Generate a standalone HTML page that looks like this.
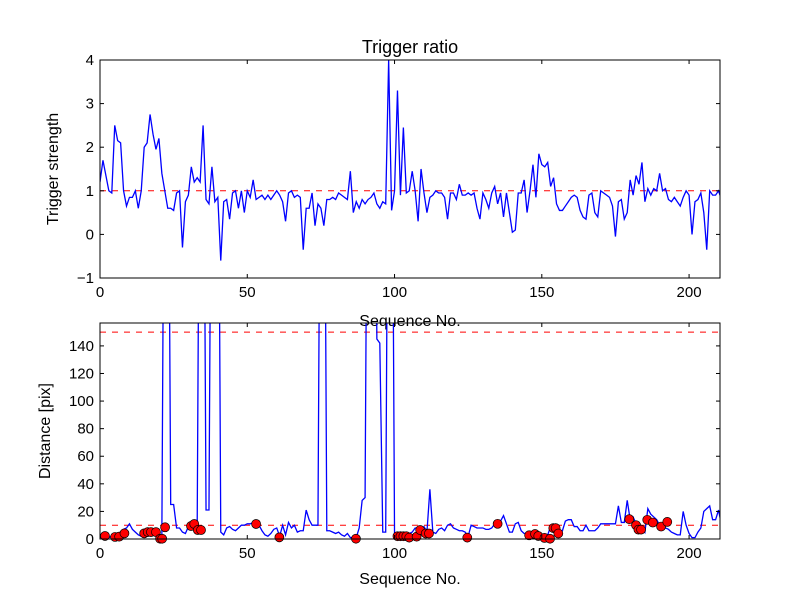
<!DOCTYPE html>
<html><head><meta charset="utf-8"><style>body{margin:0;background:#fff}svg{display:block;font-family:"Liberation Sans","DejaVu Sans",sans-serif}</style></head>
<body>
<svg id="chart" width="800" height="600" xmlns="http://www.w3.org/2000/svg"></svg>
<script>
const ratio=[1.2,1.7,1.35,1.0,0.95,2.5,2.15,2.1,1.0,0.65,0.85,0.85,1.0,0.6,1.0,2.0,2.1,2.75,2.3,1.95,2.2,1.4,1.0,0.6,0.6,0.55,0.95,1.0,-0.3,0.75,0.9,1.55,1.2,1.3,1.2,2.5,0.8,0.7,1.55,0.75,0.85,-0.6,0.75,0.8,0.35,0.95,1.0,0.6,1.0,0.5,1.0,0.85,1.25,0.8,0.85,0.9,0.8,0.9,0.8,0.9,1.0,0.9,0.75,0.3,0.95,1.0,0.85,0.9,0.85,-0.35,0.6,0.6,0.95,0.2,0.7,0.6,0.2,0.8,0.8,0.85,0.8,0.95,0.9,0.85,0.8,1.45,0.5,0.75,0.6,0.8,0.7,0.8,0.85,0.95,0.7,0.6,0.75,0.7,4.0,0.55,1.0,3.3,0.9,2.45,0.95,1.0,1.45,1.0,0.3,1.5,0.95,0.5,0.85,0.9,1.0,0.95,0.95,0.85,0.35,0.95,0.95,0.8,1.15,0.9,0.9,0.95,0.9,0.95,0.6,0.35,0.95,0.8,0.6,0.95,1.1,0.7,0.95,0.4,0.95,0.5,0.05,0.1,0.95,0.95,1.25,0.5,1.0,1.6,0.85,1.85,1.6,1.55,1.65,1.1,1.3,0.7,0.55,0.55,0.65,0.75,0.85,0.9,0.85,0.55,0.4,0.35,0.9,0.95,0.5,0.4,1.0,0.95,0.9,0.85,0.65,-0.05,0.75,0.8,0.35,0.5,1.25,0.9,1.35,1.15,1.65,0.75,1.05,0.9,1.05,1.0,1.4,1.0,1.05,0.8,0.75,0.85,0.75,0.65,0.85,1.0,0.9,0.0,0.75,0.8,0.95,0.5,-0.35,1.0,0.9,0.9,1.0,0.8];
const dist=[2,3,1,1,2,3,4,5,7,8,11,7,5,3,2,2,3,5,5,5,3,2,400,400,25,25,8,8,5,4,9,10,11,10,400,400,21,21,400,400,400,5,3,8,9,7,6,8,10,10,11,11,12,11,10,6,3,2,4,7,8,2,10,3,12,8,10,5,6,6,21,14,10,10,10,400,400,6,6,5,4,5,3,2,4,1,1,1,8,28,30,400,400,400,145,142,5,5,400,400,2,3,5,3,2,4,5,8,8,6,9,5,36,5,4,7,8,6,10,11,8,7,6,6,5,2,10,9,8,8,8,7,7,8,11,13,13,17,11,5,5,11,12,6,4,4,3,2,3,2,1,2,3,9,10,8,5,6,13,14,14,9,9,6,6,10,6,6,6,8,11,11,11,11,11,11,24,12,12,28,14,16,11,10,9,5,22,18,16,14,10,10,8,7,5,4,3,3,20,10,4,1,1,5,8,20,22,24,14,14,21,10];
const dotX=[1.7,5.1,6.5,8.3,15,16.2,17.3,19,20.4,21.1,22.1,30.9,32,33.2,34.3,53,60.9,86.9,101,102,103,104,105,107.5,108.7,110.6,111.7,124.7,135,145.7,147.7,148.8,150.9,152.8,153.9,154.7,155.6,179.7,182,182.8,183.7,185.8,187.7,190.5,192.6];
const dotY=[2.2,1.5,1.7,4.1,4.1,5,5,5,0.2,0.2,8.5,9.4,10.9,6.5,6.5,10.9,1.2,0.2,2,2,2,2,1,1.7,6.5,4,4,1,11,2.7,3.6,2.2,0.8,0.2,7.9,7.9,4,14.4,10,6.8,6.8,13.9,11.9,9,12.4];
const xTicks=[0,50,100,150,200];
const topYTicks=[-1,0,1,2,3,4];
const botYTicks=[0,20,40,60,80,100,120,140];
const thresholdsTop=[1];
const thresholdsBot=[10,150];

const NS="http://www.w3.org/2000/svg";
const svg=document.getElementById('chart');
function mk(t,a,p){const e=document.createElementNS(NS,t);for(const k in a)e.setAttribute(k,a[k]);(p||svg).appendChild(e);return e;}
const L=100,R=720,XMAX=210.5;
const sx=v=>L+(v/XMAX)*(R-L);
function panel(top,bot,ymin,ymax,name){
  const sy=v=>bot-(v-ymin)/(ymax-ymin)*(bot-top);
  const g=mk('g',{});
  
  
  const cid='clip-'+name;
  const cp=mk('clipPath',{id:cid},g);mk('rect',{x:L,y:top,width:R-L,height:bot-top},cp);
  const plot=mk('g',{'clip-path':'url(#'+cid+')'},g);
  return {g,plot,sy,top,bot};
}
function axes(p,yTicks,xlabelY,ylabel,ylabX){
  const g=p.g;
  xTicks.forEach(t=>{const x=sx(t);
    mk('line',{x1:x,x2:x,y1:p.bot,y2:p.bot-4,stroke:'#000'},g);
    mk('line',{x1:x,x2:x,y1:p.top,y2:p.top+4,stroke:'#000'},g);
    const tx=mk('text',{x:x,y:p.bot+19,'text-anchor':'middle','font-size':15},g);tx.textContent=t;
    
    });
  yTicks.forEach(t=>{const y=p.sy(t);
    mk('line',{x1:L,x2:L+4,y1:y,y2:y,stroke:'#000'},g);
    mk('line',{x1:R,x2:R-4,y1:y,y2:y,stroke:'#000'},g);
    const tx=mk('text',{x:L-6,y:y+5,'text-anchor':'end','font-size':15},g);tx.textContent=(t<0?'\u2212'+(-t):t);
    
    });
  mk('rect',{x:L,y:p.top,width:R-L,height:p.bot-p.top,fill:'none',stroke:'#000','stroke-width':1},g);
  const xl=mk('text',{x:410,y:xlabelY,'text-anchor':'middle','font-size':16},g);xl.textContent='Sequence No.';
  
  
  const yl=mk('text',{x:ylabX,y:(p.top+p.bot)/2,'text-anchor':'middle','font-size':16,transform:`rotate(-90 ${ylabX} ${(p.top+p.bot)/2})`},g);yl.textContent=ylabel;
  
  
}
// top
const p1=panel(60,278,-1,4,'trigger-ratio-panel');
thresholdsTop.forEach(t=>{const l=mk('line',{x1:L,x2:R,y1:p1.sy(t),y2:p1.sy(t),stroke:'#f00','stroke-width':1,'stroke-dasharray':'6,6'},p1.plot);
  
  });
const l1=mk('polyline',{points:ratio.map((v,i)=>sx(i)+','+p1.sy(v)).join(' '),fill:'none',stroke:'#00f','stroke-width':1.3},p1.plot);


axes(p1,topYTicks,326,'Trigger strength',58);
const ti=mk('text',{x:410,y:53,'text-anchor':'middle','font-size':18});ti.textContent='Trigger ratio';


// bottom
const p2=panel(323,539,0,156.6,'distance-panel');
thresholdsBot.forEach(t=>{const l=mk('line',{x1:L,x2:R,y1:p2.sy(t),y2:p2.sy(t),stroke:'#f00','stroke-width':1,'stroke-dasharray':'6,6'},p2.plot);
  
  });
const l2=mk('polyline',{points:dist.map((v,i)=>sx(i)+','+p2.sy(v)).join(' '),fill:'none',stroke:'#00f','stroke-width':1.3},p2.plot);


const dg=mk('g',{},p2.g);
dotX.forEach((x,i)=>{const c=mk('circle',{cx:sx(x),cy:p2.sy(dotY[i]),r:4.5,fill:'#f00',stroke:'#000','stroke-width':0.7},dg);
  
  });
axes(p2,botYTicks,584,'Distance [pix]',50);
</script>
</body></html>
